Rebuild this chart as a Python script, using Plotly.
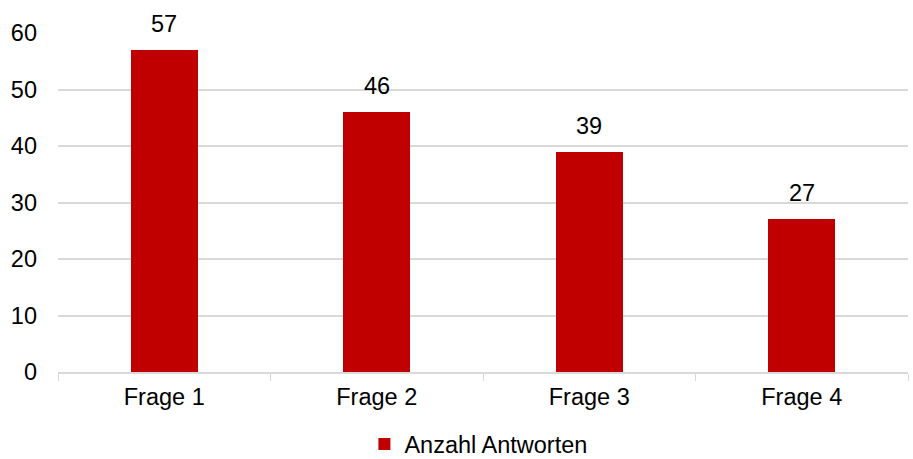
import plotly.graph_objects as go

categories = ["Frage 1", "Frage 2", "Frage 3", "Frage 4"]
values = [57, 46, 39, 27]
series_name = "Anzahl Antworten"

FS = 23.5

fig = go.Figure()
fig.add_trace(go.Bar(
    x=categories, y=values, name=series_name,
    marker=dict(color="#C00000", line=dict(width=0)),
    width=0.315,
))

for c, v in zip(categories, values):
    fig.add_annotation(x=c, y=v, text=str(v), showarrow=False,
                       yanchor="bottom", yshift=11,
                       font=dict(size=FS, color="#000000"))

fig.update_layout(
    width=913, height=459,
    margin=dict(l=58, r=5, t=33, b=87),
    paper_bgcolor="white", plot_bgcolor="white",
    font=dict(family="Liberation Sans, Arial, sans-serif", size=FS, color="#000000"),
    showlegend=True,
    legend=dict(orientation="h", x=0.524, xanchor="center", xref="container",
                y=0.032, yanchor="middle", yref="container",
                font=dict(size=FS), itemwidth=30),
    xaxis=dict(showline=True, linecolor="#D9D9D9", linewidth=1.5,
               ticks="outside", tickson="boundaries", ticklen=7, tickcolor="#D9D9D9",
               showgrid=False, tickfont=dict(size=FS), automargin=False,
               ticklabelstandoff=3),
    yaxis=dict(range=[0, 60], dtick=10, showgrid=True, gridcolor="#D9D9D9", gridwidth=1.5,
               zeroline=False, showline=False, ticks="", tickfont=dict(size=FS),
               ticklabelstandoff=20, automargin=False),
    bargap=0,
)

fig.write_html("out.html", config={"displayModeBar": False},
               post_script="document.body.style.margin='0';document.body.style.overflow='hidden';")
